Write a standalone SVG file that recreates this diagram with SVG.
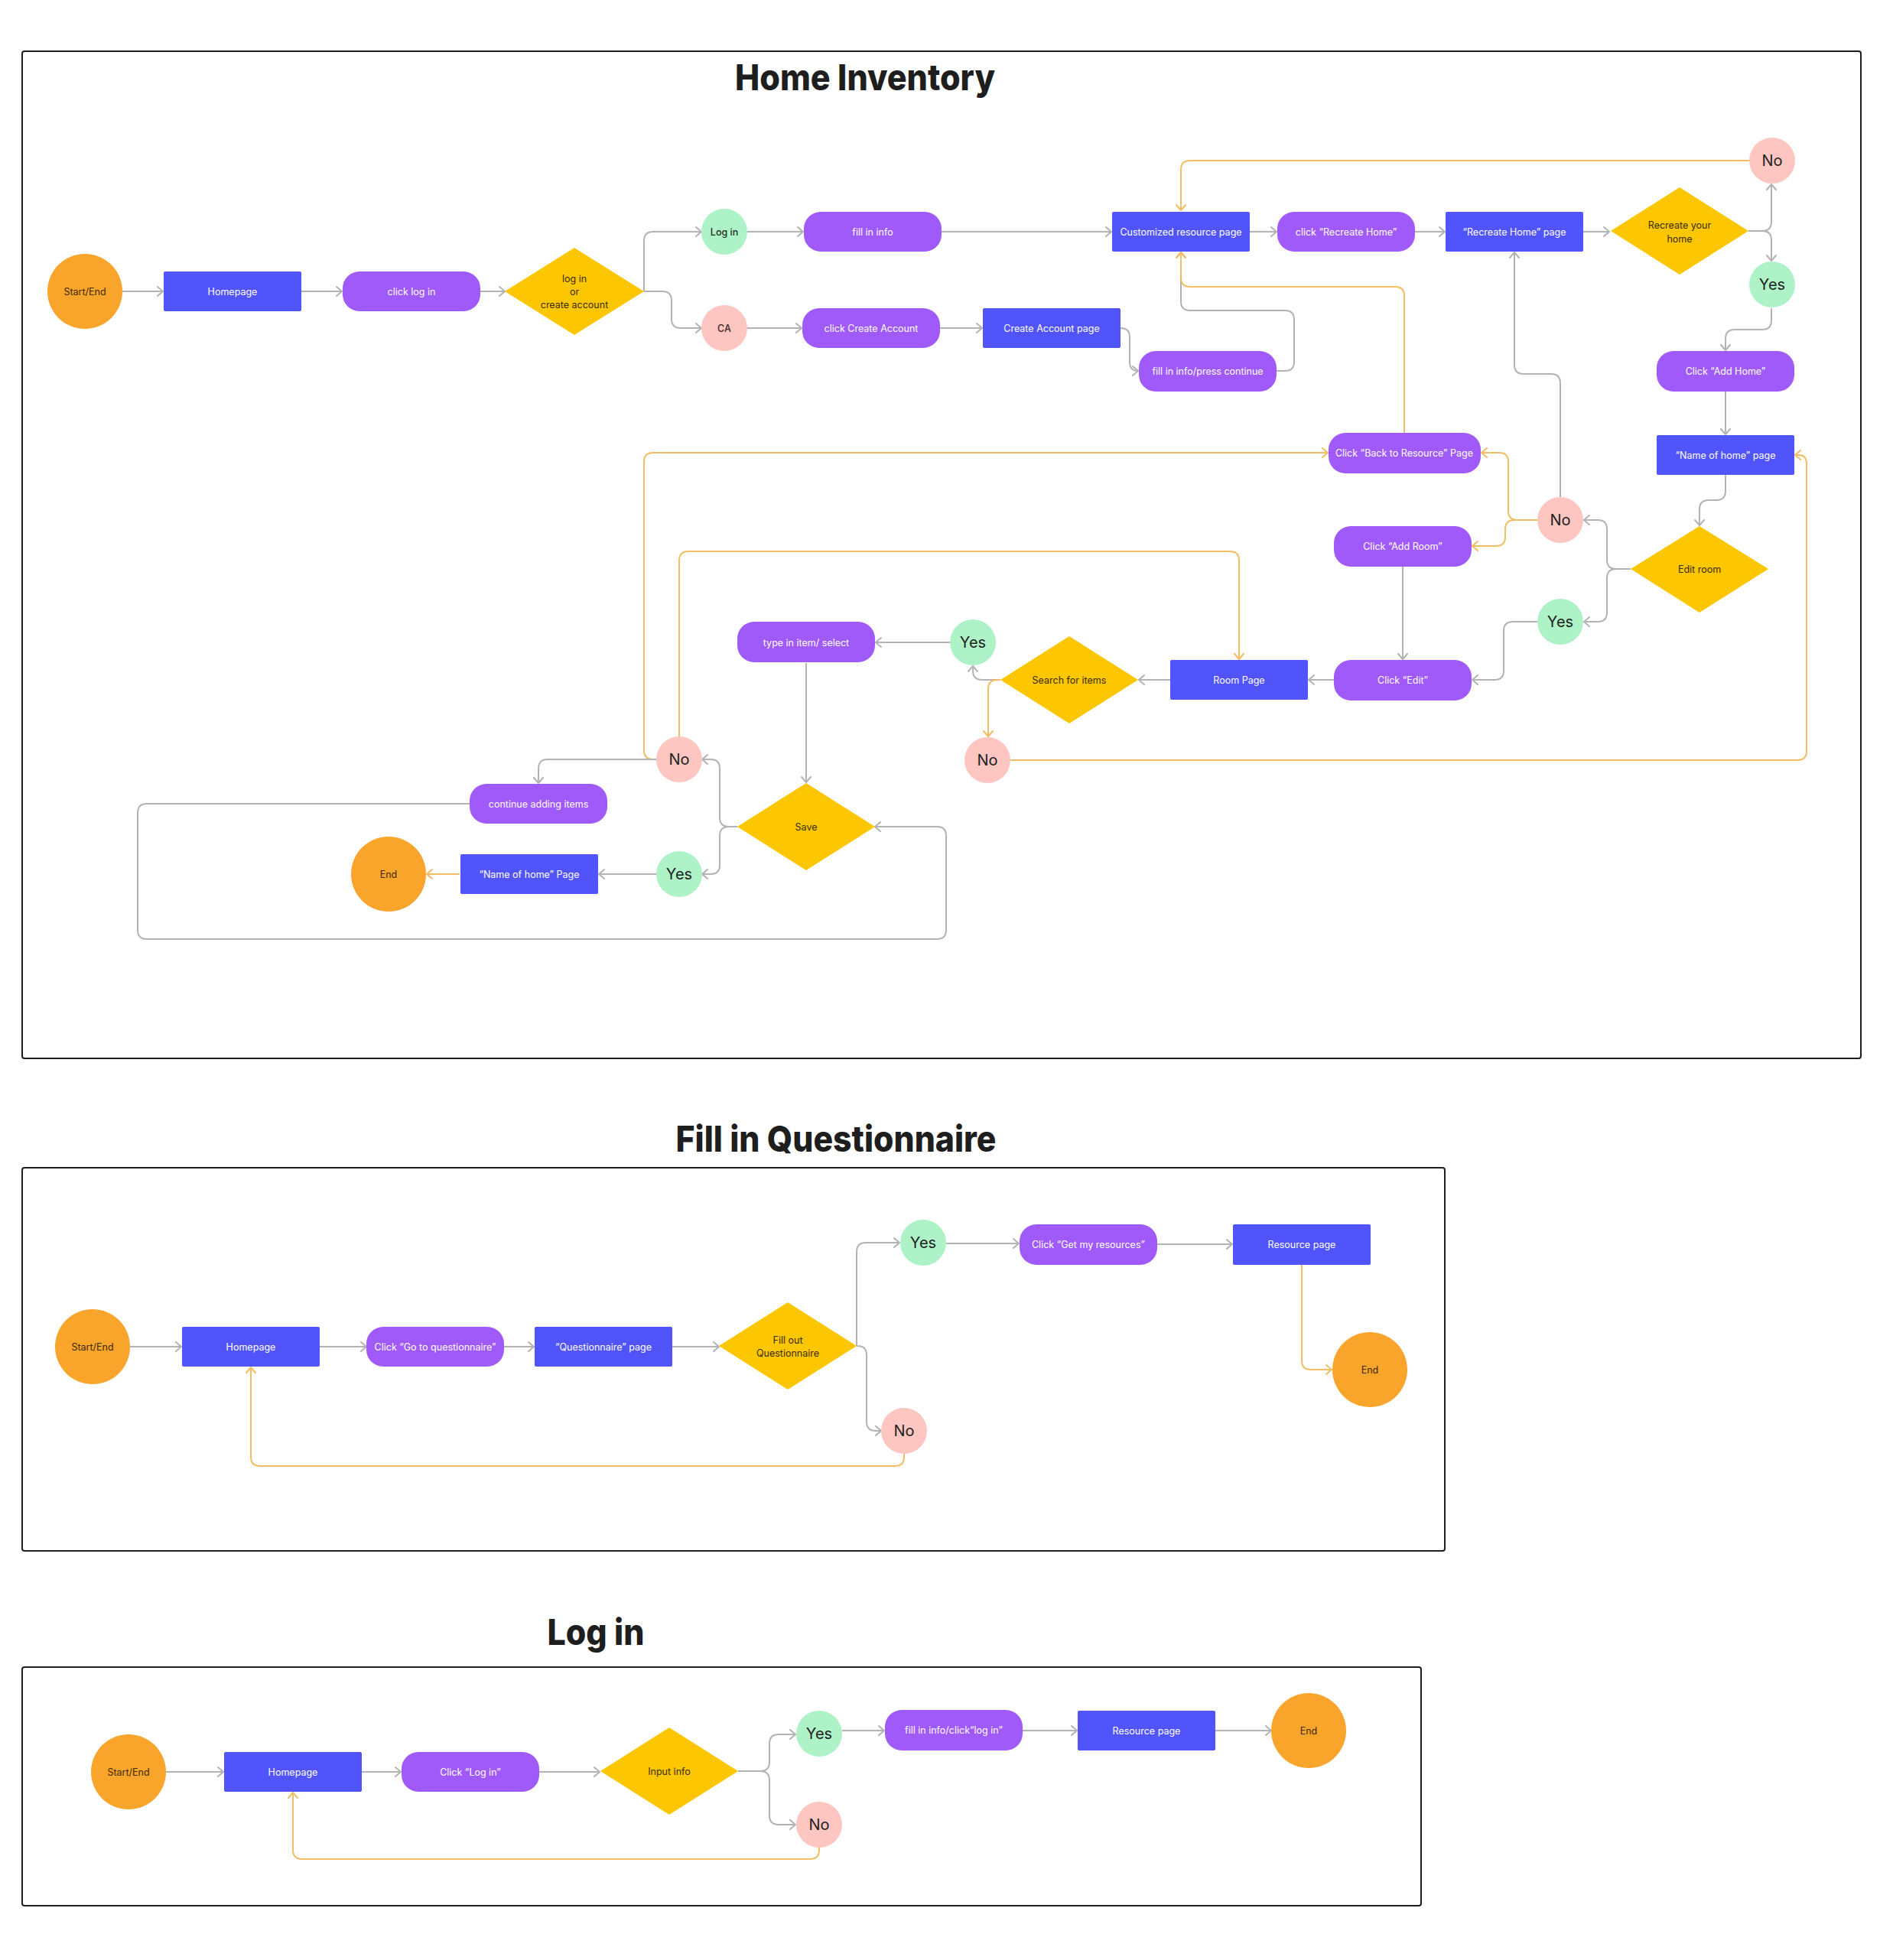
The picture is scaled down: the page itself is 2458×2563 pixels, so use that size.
<svg xmlns="http://www.w3.org/2000/svg" width="2458" height="2563" viewBox="0 0 2458 2563">
<defs>
<marker id="ag" markerWidth="12" markerHeight="14" refX="8" refY="7" orient="auto" markerUnits="userSpaceOnUse"><path d="M1,1 L8,7 L1,13" fill="none" stroke="#b3b3b3" stroke-width="2" stroke-linecap="round" stroke-linejoin="round"/></marker>
<marker id="ao" markerWidth="12" markerHeight="14" refX="8" refY="7" orient="auto" markerUnits="userSpaceOnUse"><path d="M1,1 L8,7 L1,13" fill="none" stroke="#f2bd63" stroke-width="2" stroke-linecap="round" stroke-linejoin="round"/></marker>
</defs>
<style>
text{font-family:Inter,"Liberation Sans",sans-serif;text-anchor:middle;dominant-baseline:central}
.title{font-size:47px;font-weight:800;fill:#1e1e1e;dominant-baseline:alphabetic}
.frame{fill:none;stroke:#1e1e1e;stroke-width:2}
.term{fill:#f9a42b}
.proc{fill:#5154fa}
.act{fill:#a05af9}
.dec{fill:#fcc700}
.yes{fill:#aef2c8}
.no{fill:#fec6c1}
.tw{font-size:12.5px;fill:#ffffff}
.td{font-size:12.5px;fill:#3a2a05}
.tc{font-size:20px;fill:#1e1e1e}
.ts{font-size:12.5px;fill:#1e2e22;font-weight:500}
.c{fill:none;stroke:#b3b3b3;stroke-width:2;marker-end:url(#ag)}
.o{fill:none;stroke:#f2bd63;stroke-width:2;marker-end:url(#ao)}
</style>
<rect width="2458" height="2563" fill="#ffffff"/>

<!-- Frames and titles -->
<rect class="frame" x="29" y="67" width="2404" height="1317" rx="3"/>
<text class="title" x="1131" y="118" textLength="340" lengthAdjust="spacingAndGlyphs">Home Inventory</text>
<rect class="frame" x="29" y="1527" width="1860" height="501" rx="3"/>
<text class="title" x="1093" y="1506" textLength="419" lengthAdjust="spacingAndGlyphs">Fill in Questionnaire</text>
<rect class="frame" x="29" y="2180" width="1829" height="312" rx="3"/>
<text class="title" x="779" y="2151" textLength="127" lengthAdjust="spacingAndGlyphs">Log in</text>

<!-- Connectors -->
<g id="connectors">
<path class="c" d="M160 381 H213"/>
<path class="c" d="M394 381 H447"/>
<path class="c" d="M628 381 H660"/>
<path class="c" d="M842 381 V315 Q842 303 854 303 H917"/>
<path class="c" d="M842 381 H866 Q878 381 878 393 V417 Q878 429 890 429 H917"/>
<path class="c" d="M976 303 H1050"/>
<path class="c" d="M976 429 H1048"/>
<path class="c" d="M1231 303 H1453"/>
<path class="c" d="M1229 429 H1284"/>
<path class="c" d="M1465 429 Q1477 429 1477 441 V473 Q1477 485 1488 485"/>
<path class="c" d="M1669 485 H1680 Q1692 485 1692 473 V418 Q1692 406 1680 406 H1556 Q1544 406 1544 394 V330"/>
<path class="o" d="M1836 566 V387 Q1836 375 1824 375 H1556 Q1544 375 1544 363 V330"/>
<path class="c" d="M1634 303 H1669"/>
<path class="c" d="M1849 303 H1889"/>
<path class="c" d="M2070 303 H2104"/>
<path class="c" d="M2286 302 H2304 Q2316 302 2316 290 V241"/>
<path class="c" d="M2286 302 H2304 Q2316 302 2316 314 V341"/>
<path class="o" d="M2287 210 H1556 Q1544 210 1544 222 V275"/>
<path class="c" d="M2316 403 V419 Q2316 431 2304 431 H2268 Q2256 431 2256 443 V458"/>
<path class="c" d="M2256 512 V568"/>
<path class="c" d="M2256 621 V642 Q2256 654 2244 654 H2234 Q2222 654 2222 666 V687"/>
<path class="c" d="M2132 744 H2113 Q2101 744 2101 732 V692 Q2101 680 2089 680 H2071"/>
<path class="c" d="M2132 744 H2113 Q2101 744 2101 756 V801 Q2101 813 2089 813 H2071"/>
<path class="c" d="M2040 650 V501 Q2040 489 2028 489 H1992 Q1980 489 1980 477 V330"/>
<path class="o" d="M2010 680 H1984 Q1972 680 1972 668 V604 Q1972 592 1960 592 H1937"/>
<path class="o" d="M2010 680 H1980 Q1968 680 1968 692 V702 Q1968 714 1956 714 H1925"/>
<path class="c" d="M1834 741 V862"/>
<path class="c" d="M2010 813 H1978 Q1966 813 1966 825 V877 Q1966 889 1954 889 H1925"/>
<path class="c" d="M1744 889 H1711"/>
<path class="c" d="M1530 889 H1489"/>
<path class="c" d="M1308 889 H1284 Q1272 889 1272 877 V871"/>
<path class="o" d="M1308 889 H1304 Q1292 889 1292 901 V963"/>
<path class="c" d="M1242 840 H1145"/>
<path class="o" d="M1321 994 H2350 Q2362 994 2362 982 V607 Q2362 595 2352 595 H2347"/>
<path class="o" d="M888 963 V733 Q888 721 900 721 H1608 Q1620 721 1620 733 V862"/>
<path class="o" d="M858 993 H854 Q842 993 842 981 V604 Q842 592 854 592 H1736"/>
<path class="c" d="M858 993 H716 Q704 993 704 1005 V1024"/>
<path class="c" d="M1054 867 V1023"/>
<path class="c" d="M964 1081 H953 Q941 1081 941 1069 V1005 Q941 993 929 993 H918"/>
<path class="c" d="M964 1081 H953 Q941 1081 941 1093 V1131 Q941 1143 929 1143 H918"/>
<path class="c" d="M858 1143 H783"/>
<path class="o" d="M601 1143 H558"/>
<path class="c" d="M614 1051 H192 Q180 1051 180 1063 V1216 Q180 1228 192 1228 H1225 Q1237 1228 1237 1216 V1093 Q1237 1081 1225 1081 H1144"/>

<path class="c" d="M170 1761 H237"/>
<path class="c" d="M418 1761 H479"/>
<path class="c" d="M659 1761 H698"/>
<path class="c" d="M879 1761 H940"/>
<path class="c" d="M1120 1760 V1637 Q1120 1625 1132 1625 H1176"/>
<path class="c" d="M1120 1760 H1121 Q1133 1760 1133 1772 V1859 Q1133 1871 1145 1871 H1152"/>
<path class="c" d="M1237 1626 H1332"/>
<path class="c" d="M1513 1627 H1611"/>
<path class="o" d="M1702 1654 V1779 Q1702 1791 1714 1791 H1741"/>
<path class="o" d="M1182 1901 V1905 Q1182 1917 1170 1917 H340 Q328 1917 328 1905 V1788"/>

<path class="c" d="M216 2317 H292"/>
<path class="c" d="M473 2317 H524"/>
<path class="c" d="M705 2317 H784"/>
<path class="c" d="M965 2316 H994 Q1006 2316 1006 2304 V2280 Q1006 2268 1018 2268 H1040"/>
<path class="c" d="M965 2316 H994 Q1006 2316 1006 2328 V2374 Q1006 2386 1018 2386 H1040"/>
<path class="c" d="M1101 2263 H1156"/>
<path class="c" d="M1337 2263 H1408"/>
<path class="c" d="M1589 2263 H1662"/>
<path class="o" d="M1071 2416 V2419 Q1071 2431 1059 2431 H395 Q383 2431 383 2419 V2344"/>
</g>

<!-- Home Inventory nodes -->
<g id="hi-start"><circle class="term" cx="111" cy="381" r="49"/><text class="td" x="111" y="381">Start/End</text></g>
<g id="hi-homepage"><rect class="proc" x="214" y="355" width="180" height="52" rx="2"/><text class="tw" x="304" y="381">Homepage</text></g>
<g id="hi-clicklogin"><rect class="act" x="448" y="355" width="180" height="52" rx="22"/><text class="tw" x="538" y="381">click log in</text></g>
<g id="hi-logincreate"><polygon class="dec" points="751,324 842,381 751,438 660,381"/><text class="td" x="751" y="364">log in</text><text class="td" x="751" y="381">or</text><text class="td" x="751" y="398">create account</text></g>
<g id="hi-login"><circle class="yes" cx="947" cy="303" r="30"/><text class="ts" x="947" y="303">Log in</text></g>
<g id="hi-ca"><circle class="no" cx="947" cy="429" r="30"/><text class="ts" x="947" y="429" style="fill:#3a1e1e">CA</text></g>
<g id="hi-fillinfo"><rect class="act" x="1051" y="277" width="180" height="52" rx="22"/><text class="tw" x="1141" y="303">fill in info</text></g>
<g id="hi-clickca"><rect class="act" x="1049" y="403" width="180" height="52" rx="22"/><text class="tw" x="1139" y="429">click Create Account</text></g>
<g id="hi-capage"><rect class="proc" x="1285" y="403" width="180" height="52" rx="2"/><text class="tw" x="1375" y="429">Create Account page</text></g>
<g id="hi-fillcontinue"><rect class="act" x="1489" y="459" width="180" height="53" rx="22"/><text class="tw" x="1579" y="485">fill in info/press continue</text></g>
<g id="hi-custom"><rect class="proc" x="1454" y="277" width="180" height="52" rx="2"/><text class="tw" x="1544" y="303">Customized resource page</text></g>
<g id="hi-clickrecreate"><rect class="act" x="1670" y="277" width="180" height="52" rx="22"/><text class="tw" x="1760" y="303">click “Recreate Home”</text></g>
<g id="hi-recreatepage"><rect class="proc" x="1890" y="277" width="180" height="52" rx="2"/><text class="tw" x="1980" y="303">“Recreate Home” page</text></g>
<g id="hi-recreatedec"><polygon class="dec" points="2196,245 2286,302 2196,359 2106,302"/><text class="td" x="2196" y="294">Recreate your</text><text class="td" x="2196" y="312">home</text></g>
<g id="hi-no1"><circle class="no" cx="2317" cy="210" r="30"/><text class="tc" x="2317" y="210">No</text></g>
<g id="hi-yes1"><circle class="yes" cx="2317" cy="372" r="30"/><text class="tc" x="2317" y="372">Yes</text></g>
<g id="hi-addhome"><rect class="act" x="2166" y="459" width="180" height="53" rx="22"/><text class="tw" x="2256" y="485">Click “Add Home”</text></g>
<g id="hi-namepage"><rect class="proc" x="2166" y="569" width="180" height="52" rx="2"/><text class="tw" x="2256" y="595">“Name of home” page</text></g>
<g id="hi-editroom"><polygon class="dec" points="2222,688 2312,744 2222,801 2132,744"/><text class="td" x="2222" y="744">Edit room</text></g>
<g id="hi-no2"><circle class="no" cx="2040" cy="680" r="30"/><text class="tc" x="2040" y="680">No</text></g>
<g id="hi-yes2"><circle class="yes" cx="2040" cy="813" r="30"/><text class="tc" x="2040" y="813">Yes</text></g>
<g id="hi-back"><rect class="act" x="1737" y="566" width="199" height="53" rx="22"/><text class="tw" x="1836" y="592">Click “Back to Resource” Page</text></g>
<g id="hi-addroom"><rect class="act" x="1744" y="688" width="180" height="53" rx="22"/><text class="tw" x="1834" y="714">Click “Add Room”</text></g>
<g id="hi-edit"><rect class="act" x="1744" y="863" width="180" height="53" rx="22"/><text class="tw" x="1834" y="889">Click “Edit”</text></g>
<g id="hi-roompage"><rect class="proc" x="1530" y="863" width="180" height="52" rx="2"/><text class="tw" x="1620" y="889">Room Page</text></g>
<g id="hi-search"><polygon class="dec" points="1398,832 1488,889 1398,946 1308,889"/><text class="td" x="1398" y="889">Search for items</text></g>
<g id="hi-yes3"><circle class="yes" cx="1272" cy="840" r="30"/><text class="tc" x="1272" y="840">Yes</text></g>
<g id="hi-no3"><circle class="no" cx="1291" cy="994" r="30"/><text class="tc" x="1291" y="994">No</text></g>
<g id="hi-typeitem"><rect class="act" x="964" y="813" width="180" height="53" rx="22"/><text class="tw" x="1054" y="840">type in item/ select</text></g>
<g id="hi-no4"><circle class="no" cx="888" cy="993" r="30"/><text class="tc" x="888" y="993">No</text></g>
<g id="hi-continue"><rect class="act" x="614" y="1025" width="180" height="52" rx="22"/><text class="tw" x="704" y="1051">continue adding items</text></g>
<g id="hi-save"><polygon class="dec" points="1054,1024 1144,1081 1054,1138 964,1081"/><text class="td" x="1054" y="1081">Save</text></g>
<g id="hi-yes4"><circle class="yes" cx="888" cy="1143" r="30"/><text class="tc" x="888" y="1143">Yes</text></g>
<g id="hi-namepage2"><rect class="proc" x="602" y="1117" width="180" height="52" rx="2"/><text class="tw" x="692" y="1143">“Name of home” Page</text></g>
<g id="hi-end"><circle class="term" cx="508" cy="1143" r="49"/><text class="td" x="508" y="1143">End</text></g>

<!-- Fill in Questionnaire nodes -->
<g id="fq-start"><circle class="term" cx="121" cy="1761" r="49"/><text class="td" x="121" y="1761">Start/End</text></g>
<g id="fq-homepage"><rect class="proc" x="238" y="1735" width="180" height="52" rx="2"/><text class="tw" x="328" y="1761">Homepage</text></g>
<g id="fq-clickgo"><rect class="act" x="479" y="1735" width="180" height="52" rx="22"/><text class="tw" x="569" y="1761">Click “Go to questionnaire”</text></g>
<g id="fq-qpage"><rect class="proc" x="699" y="1735" width="180" height="52" rx="2"/><text class="tw" x="789" y="1761">“Questionnaire” page</text></g>
<g id="fq-fill"><polygon class="dec" points="1030,1703 1120,1760 1030,1817 940,1760"/><text class="td" x="1030" y="1752">Fill out</text><text class="td" x="1030" y="1769">Questionnaire</text></g>
<g id="fq-yes"><circle class="yes" cx="1207" cy="1625" r="30"/><text class="tc" x="1207" y="1625">Yes</text></g>
<g id="fq-getres"><rect class="act" x="1333" y="1601" width="180" height="53" rx="22"/><text class="tw" x="1423" y="1627">Click “Get my resources”</text></g>
<g id="fq-respage"><rect class="proc" x="1612" y="1601" width="180" height="53" rx="2"/><text class="tw" x="1702" y="1627">Resource page</text></g>
<g id="fq-end"><circle class="term" cx="1791" cy="1791" r="49"/><text class="td" x="1791" y="1791">End</text></g>
<g id="fq-no"><circle class="no" cx="1182" cy="1871" r="30"/><text class="tc" x="1182" y="1871">No</text></g>

<!-- Log in nodes -->
<g id="li-start"><circle class="term" cx="168" cy="2317" r="49"/><text class="td" x="168" y="2317">Start/End</text></g>
<g id="li-homepage"><rect class="proc" x="293" y="2291" width="180" height="52" rx="2"/><text class="tw" x="383" y="2317">Homepage</text></g>
<g id="li-clicklogin"><rect class="act" x="525" y="2291" width="180" height="52" rx="22"/><text class="tw" x="615" y="2317">Click “Log in”</text></g>
<g id="li-input"><polygon class="dec" points="875,2259 965,2316 875,2373 785,2316"/><text class="td" x="875" y="2316">Input info</text></g>
<g id="li-yes"><circle class="yes" cx="1071" cy="2267" r="30"/><text class="tc" x="1071" y="2267">Yes</text></g>
<g id="li-fill"><rect class="act" x="1157" y="2236" width="180" height="53" rx="22"/><text class="tw" x="1247" y="2262">fill in info/click“log in”</text></g>
<g id="li-respage"><rect class="proc" x="1409" y="2237" width="180" height="52" rx="2"/><text class="tw" x="1499" y="2263">Resource page</text></g>
<g id="li-end"><circle class="term" cx="1711" cy="2263" r="49"/><text class="td" x="1711" y="2263">End</text></g>
<g id="li-no"><circle class="no" cx="1071" cy="2386" r="30"/><text class="tc" x="1071" y="2386">No</text></g>
</svg>
